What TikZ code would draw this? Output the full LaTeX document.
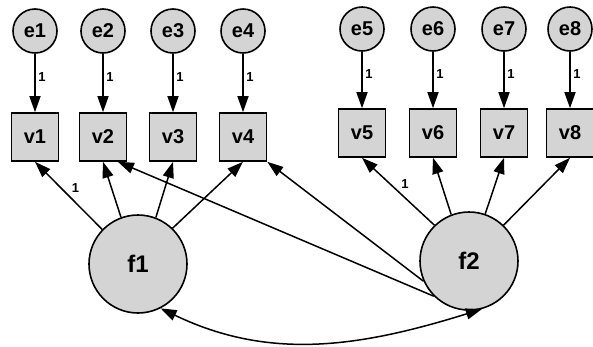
\documentclass[tikz,border=0pt]{standalone}
\usepackage{fontspec}
\setmainfont{Liberation Sans}
\usetikzlibrary{arrows.meta}

\tikzset{
  errvar/.style={circle, draw, line width=1.6pt, fill=black!17, minimum size=44pt, inner sep=0pt,
    font=\fontsize{20}{22}\selectfont\bfseries},
  obsvar/.style={rectangle, draw, line width=1.6pt, fill=black!17, minimum width=47pt, minimum height=48pt, inner sep=0pt,
    font=\fontsize{20}{22}\selectfont\bfseries},
  latvar/.style={circle, draw, line width=1.6pt, fill=black!17, minimum size=98pt, inner sep=0pt,
    font=\fontsize{24}{26}\selectfont\bfseries},
  wlbl/.style={font=\fontsize{13}{14}\selectfont\bfseries, inner sep=2.5pt}
}

\begin{document}
\begin{tikzpicture}[x=1pt,y=-1pt,line width=1.5pt,>={Triangle[length=16pt,width=11pt]}]
  \useasboundingbox (0,0) rectangle (593,346);

  \node[errvar] (e1) at (35,31) {e1};
  \node[errvar] (e2) at (103,31) {e2};
  \node[errvar] (e3) at (173,31) {e3};
  \node[errvar] (e4) at (243,31) {e4};
  \node[errvar] (e5) at (362,29) {e5};
  \node[errvar] (e6) at (433,29) {e6};
  \node[errvar] (e7) at (504,29) {e7};
  \node[errvar] (e8) at (570,29) {e8};

  \node[obsvar] (v1) at (35,137) {v1};
  \node[obsvar] (v2) at (103,137) {v2};
  \node[obsvar] (v3) at (173,137) {v3};
  \node[obsvar] (v4) at (243,137) {v4};
  \node[obsvar] (v5) at (362,133) {v5};
  \node[obsvar] (v6) at (433,133) {v6};
  \node[obsvar] (v7) at (504,133) {v7};
  \node[obsvar] (v8) at (570,133) {v8};

  \node[latvar] (f1) at (138,264) {f1};
  \node[latvar] (f2) at (469,261) {f2};

  % errors
  \draw[->] (e1) -- (v1) node[wlbl, right, pos=0.4] {1};
  \draw[->] (e2) -- (v2) node[wlbl, right, pos=0.4] {1};
  \draw[->] (e3) -- (v3) node[wlbl, right, pos=0.4] {1};
  \draw[->] (e4) -- (v4) node[wlbl, right, pos=0.4] {1};
  \draw[->] (e5) -- (v5) node[wlbl, right, pos=0.4] {1};
  \draw[->] (e6) -- (v6) node[wlbl, right, pos=0.4] {1};
  \draw[->] (e7) -- (v7) node[wlbl, right, pos=0.4] {1};
  \draw[->] (e8) -- (v8) node[wlbl, right, pos=0.4] {1};

  % loadings
  \draw[->] (f1.136) -- (v1.south) node[wlbl, midway, above right] {1};
  \draw[->] (f1.110) -- (v2.south);
  \draw[->] (f1.69) -- (v3.south);
  \draw[->] (f1.46) -- (v4.south);
  \draw[->] (f2.225) -- (v2.-59);
  \draw[->] (f2.204) -- (v4.south east);
  \draw[->] (f2.134) -- (v5.south) node[wlbl, midway, above right] {1};
  \draw[->] (f2.111) -- (v6.south);
  \draw[->] (f2.71) -- (v7.south);
  \draw[->] (f2.46) -- (v8.south);

  \draw[<->] (f1.-63) .. controls (270,361) and (360,347) .. (f2.-75);
\end{tikzpicture}
\end{document}
